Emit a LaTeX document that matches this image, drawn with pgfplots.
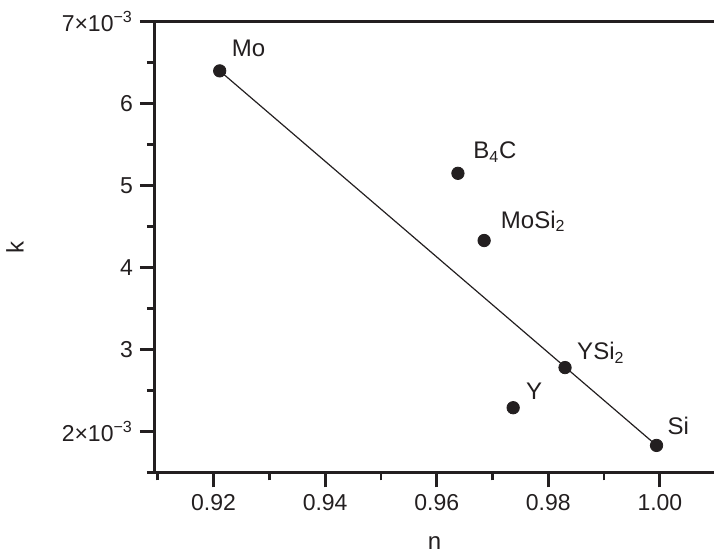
\documentclass[border=0pt]{standalone}
\usepackage{fontspec}
\setmainfont{Liberation Sans}
\usepackage{pgfplots}
\pgfplotsset{compat=1.18}
\definecolor{ink}{RGB}{35,31,32}
\begin{document}
\begin{tikzpicture}
\begin{axis}[
  name=ax,
  scale only axis,
  width=279.5pt, height=225.4pt,
  xmin=0.9095, xmax=1.0097,
  ymin=0.0015, ymax=0.007,
  axis lines=left,
  axis line style={-, line width=1.5pt, color=ink, line cap=rect},
  xtick={0.92,0.94,0.96,0.98,1.00},
  xticklabels={0.92,0.94,0.96,0.98,1.00},
  minor xtick={0.91,0.93,0.95,0.97,0.99},
  ytick={0.002,0.003,0.004,0.005,0.006,0.007},
  yticklabels={2×10\textsuperscript{−3},3,4,5,6,7×10\textsuperscript{−3}},
  minor ytick={0.0015,0.0025,0.0035,0.0045,0.0055,0.0065},
  scaled y ticks=false,
  scaled x ticks=false,
  tick align=outside,
  major tick length=7.5pt,
  minor tick length=4pt,
  tick style={line width=1.4pt, color=ink},
  tick label style={font=\fontsize{11.5}{13}\selectfont, color=ink},
  label style={font=\fontsize{12}{14}\selectfont, color=ink},
  xlabel={n}, ylabel={k},
  xlabel style={at={(rel axis cs:0.5,0)}, anchor=center, yshift=-35.3pt},
  ylabel style={at={(rel axis cs:-0.2504,0.5)}, anchor=center},
  clip=false,
]
\addplot[ink, line width=0.6pt] coordinates {(0.9211,0.00640) (0.9994,0.00183)};
\addplot[only marks, mark=*, mark size=3.1pt, ink, mark options={fill=ink, draw=ink}] coordinates {
  (0.9211,0.00640) (0.9638,0.00515) (0.9685,0.00433) (0.9830,0.00278) (0.9737,0.00229) (0.9994,0.00183)};
\draw[ink, line width=1.5pt, line cap=rect] (rel axis cs:0,1) -- (rel axis cs:1,1);
\begin{scope}[every node/.style={anchor=base west, inner sep=0pt, font=\fontsize{12}{14}\selectfont, text=ink}]
\node[xshift=5.9pt, yshift=7pt] at (axis cs:0.9211,0.00640) {Mo};
\node[xshift=7.5pt, yshift=7.2pt] at (axis cs:0.9638,0.00515) {B\textsubscript{4}C};
\node[xshift=8.2pt, yshift=6.2pt] at (axis cs:0.9685,0.00433) {MoSi\textsubscript{2}};
\node[xshift=5.9pt, yshift=4pt] at (axis cs:0.9830,0.00278) {YSi\textsubscript{2}};
\node[xshift=6.3pt, yshift=3.9pt] at (axis cs:0.9737,0.00229) {Y};
\node[xshift=5.3pt, yshift=5.5pt] at (axis cs:0.9994,0.00183) {Si};
\end{scope}
\end{axis}
\pgfresetboundingbox
\path[use as bounding box] ([xshift=-77.5pt,yshift=-41.75pt]ax.south west) rectangle ([yshift=10.85pt]ax.north east);
\end{tikzpicture}
\end{document}
